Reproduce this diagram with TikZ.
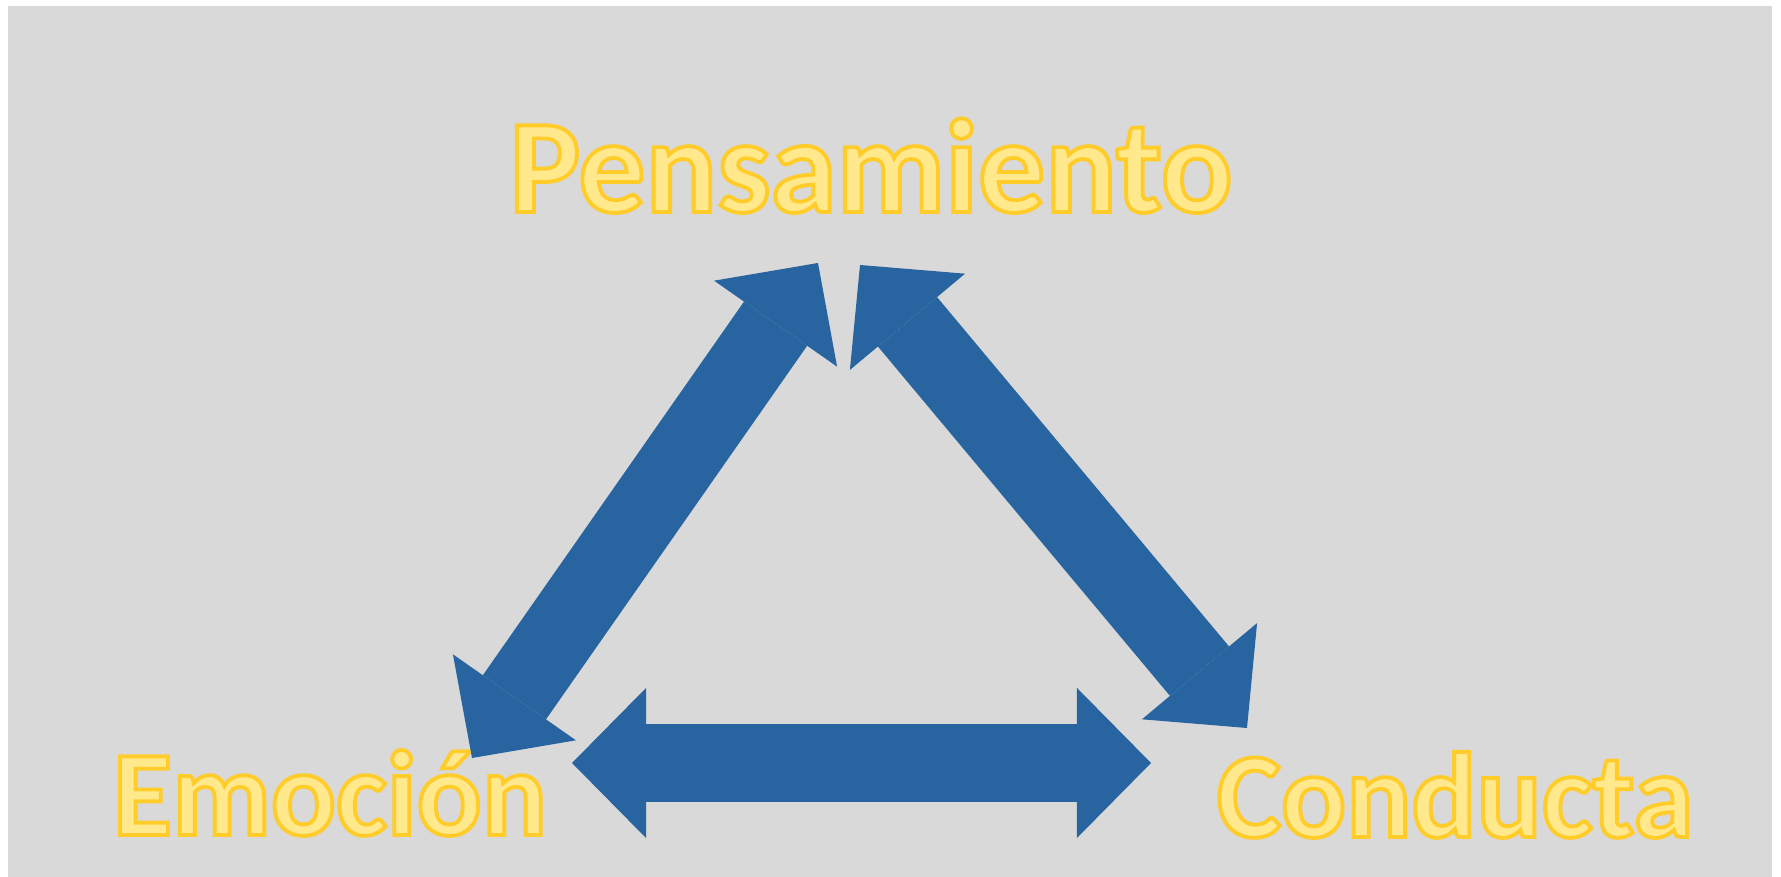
\documentclass[tikz,border=0pt]{standalone}
\usepackage{fontspec}
\setmainfont{Carlito}
\usetikzlibrary{arrows.meta}
\definecolor{bgGray}{RGB}{217,217,217}
\definecolor{arrBlue}{RGB}{40,101,160}
\definecolor{wordFill}{RGB}{255,233,140}
\tikzset{
  >={Triangle[length=7.4mm,width=15mm,line width=0pt]},
  fat/.style={<->, draw=arrBlue, line width=7.7mm},
  word/.style={anchor=base, inner sep=0pt, text=wordFill, font=\bfseries\fontsize{34.5}{36}\selectfont},
  bigword/.style={word, font=\bfseries\fontsize{38}{40}\selectfont}
}
% fill + stroke the glyphs (gold outline)
\newcommand{\wordart}[1]{\special{pdf:literal direct 2 Tr 1.1 w 1 0.8 0.16 RG}#1\special{pdf:literal direct 0 Tr}}

\begin{document}
\begin{tikzpicture}[x=0.01cm, y=-0.01cm]
    % Background
    \useasboundingbox (0,0) rectangle (1781,877);
    \fill[bgGray] (8,6) rectangle (1772,877);

    % Labels
    \node[bigword] (pens) at (871,212) {\wordart{Pensamiento}};
    \node[word] (emoc) at (330,835) {\wordart{Emoción}};
    \node[word] (cond) at (1455,837) {\wordart{Conducta}};

    % Arrow ends
    \coordinate (pensL) at (818,263);
    \coordinate (pensR) at (860,265);
    \coordinate (emocT) at (472,758);
    \coordinate (emocR) at (572,763);
    \coordinate (condT) at (1247,728);
    \coordinate (condL) at (1151,763);

    % Arrows
    \draw[fat] (emocT) -- (pensL);
    \draw[fat] (pensR) -- (condT);
    \draw[fat] (emocR) -- (condL);
\end{tikzpicture}
\end{document}
